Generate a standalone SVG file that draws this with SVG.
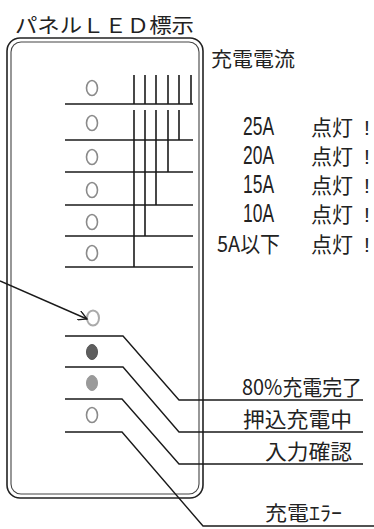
<svg xmlns="http://www.w3.org/2000/svg" width="374" height="529" viewBox="0 0 374 529">
<defs>
<style>
.t{font-family:"Noto Sans CJK JP","Liberation Sans",sans-serif;fill:#222;}
.n{font-family:"Liberation Sans","Noto Sans CJK JP",sans-serif;fill:#222;}
.ex{font-family:"Liberation Sans",sans-serif;fill:#222;font-size:21px;text-anchor:middle;}
.ln{stroke:#1a1a1a;stroke-width:1.4;fill:none;}
.bar{stroke:#1a1a1a;stroke-width:1.6;}
.led{fill:#fff;stroke:#8a8a8a;stroke-width:1.6;}
</style>
<marker id="ah" markerWidth="10" markerHeight="10" refX="9" refY="5" orient="auto" markerUnits="userSpaceOnUse">
<path d="M0,0 L9,5 L0,10" fill="none" stroke="#1a1a1a" stroke-width="1.3"/>
</marker>
</defs>
<rect width="374" height="529" fill="#fff"/>

<g id="title"><text class="t" x="15" y="33" font-size="20" textLength="179" lengthAdjust="spacingAndGlyphs">パネルＬＥＤ標示</text></g>

<g id="panel">
<rect x="7" y="38" width="196" height="460" rx="13" fill="none" stroke="#222" stroke-width="1.6"/>
<rect x="11" y="42" width="188" height="452" rx="10" fill="none" stroke="#444" stroke-width="1.1"/>
</g>

<g id="current-title"><text class="t" x="211" y="67" font-size="20" textLength="84" lengthAdjust="spacingAndGlyphs">充電電流</text></g>

<g id="bar-meter">
<line class="ln" x1="65" y1="104" x2="193" y2="104"/>
<line class="ln" x1="65" y1="140" x2="193" y2="140"/>
<line class="ln" x1="65" y1="172" x2="193" y2="172"/>
<line class="ln" x1="65" y1="205" x2="193" y2="205"/>
<line class="ln" x1="65" y1="236" x2="193" y2="236"/>
<line class="ln" x1="65" y1="267" x2="193" y2="267"/>
<line class="bar" x1="134" y1="75" x2="134" y2="104"/>
<line class="bar" x1="145" y1="75" x2="145" y2="104"/>
<line class="bar" x1="156" y1="75" x2="156" y2="104"/>
<line class="bar" x1="168" y1="75" x2="168" y2="104"/>
<line class="bar" x1="179" y1="75" x2="179" y2="104"/>
<line class="bar" x1="191" y1="75" x2="191" y2="104"/>
<line class="bar" x1="134" y1="110" x2="134" y2="267"/>
<line class="bar" x1="145" y1="110" x2="145" y2="236"/>
<line class="bar" x1="156" y1="110" x2="156" y2="205"/>
<line class="bar" x1="168" y1="110" x2="168" y2="172"/>
<line class="bar" x1="179" y1="110" x2="179" y2="140"/>
</g>

<g id="led-25A"><ellipse class="led" cx="92" cy="88" rx="5.5" ry="7.5"/></g>
<g id="led-20A"><ellipse class="led" cx="92" cy="123" rx="5.5" ry="7.5"/></g>
<g id="led-15A"><ellipse class="led" cx="92" cy="157" rx="5.5" ry="7.5"/></g>
<g id="led-10A"><ellipse class="led" cx="92" cy="190" rx="5.5" ry="7.5"/></g>
<g id="led-5A"><ellipse class="led" cx="92" cy="222" rx="5.5" ry="7.5"/></g>
<g id="led-low"><ellipse class="led" cx="92" cy="253" rx="5.5" ry="7.5"/></g>

<g id="led-error"><ellipse cx="93" cy="318" rx="6" ry="7.5" fill="#fff" stroke="#aaa" stroke-width="2"/></g>
<g id="led-full"><ellipse cx="92" cy="352" rx="5.5" ry="7.5" fill="#5e5e5e" stroke="#555" stroke-width="1"/></g>
<g id="led-charging"><ellipse cx="92" cy="383" rx="5.5" ry="7.5" fill="#9a9a9a" stroke="#999" stroke-width="1"/></g>
<g id="led-input"><ellipse class="led" cx="92" cy="415" rx="5.5" ry="7.5"/></g>

<g id="label-25A">
<text class="n" x="243" y="135" font-size="25" textLength="31" lengthAdjust="spacingAndGlyphs">25A</text>
<text class="t" x="311" y="135" font-size="21">点灯</text><text class="ex" x="367" y="135">!</text>
</g>
<g id="label-20A">
<text class="n" x="243" y="164" font-size="25" textLength="31" lengthAdjust="spacingAndGlyphs">20A</text>
<text class="t" x="311" y="164" font-size="21">点灯</text><text class="ex" x="367" y="164">!</text>
</g>
<g id="label-15A">
<text class="n" x="243" y="193" font-size="25" textLength="31" lengthAdjust="spacingAndGlyphs">15A</text>
<text class="t" x="311" y="193" font-size="21">点灯</text><text class="ex" x="367" y="193">!</text>
</g>
<g id="label-10A">
<text class="n" x="243" y="222" font-size="25" textLength="31" lengthAdjust="spacingAndGlyphs">10A</text>
<text class="t" x="311" y="222" font-size="21">点灯</text><text class="ex" x="367" y="222">!</text>
</g>
<g id="label-5A">
<text class="t" x="217" y="252" font-size="22" textLength="63" lengthAdjust="spacingAndGlyphs">5A以下</text>
<text class="t" x="311" y="252" font-size="21">点灯</text><text class="ex" x="367" y="252">!</text>
</g>

<g id="label-full"><text class="t" x="242" y="395" font-size="21" textLength="120" lengthAdjust="spacingAndGlyphs">80%充電完了</text></g>
<g id="label-charging"><text class="t" x="243" y="427" font-size="21" textLength="109" lengthAdjust="spacingAndGlyphs">押込充電中</text></g>
<g id="label-input"><text class="t" x="265" y="459" font-size="21" textLength="87" lengthAdjust="spacingAndGlyphs">入力確認</text></g>
<g id="label-error"><text class="t" x="265" y="521" font-size="20" textLength="77" lengthAdjust="spacingAndGlyphs">充電ｴﾗｰ</text></g>

<g id="connectors">
<line class="ln" x1="0" y1="281" x2="87" y2="319" marker-end="url(#ah)"/>
<polyline class="ln" points="65,336 123,336 179,400 363,400"/>
<polyline class="ln" points="65,367 123,367 179,432 363,432"/>
<polyline class="ln" points="65,399 122,399 179,464 363,464"/>
<polyline class="ln" points="65,432 122,432 203,526 374,526"/>
</g>
</svg>
